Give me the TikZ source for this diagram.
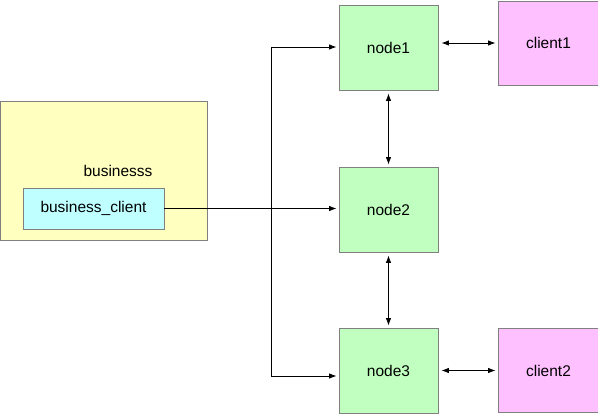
\documentclass[tikz,border=0pt]{standalone}
\usepackage{fontspec}
\setmainfont{Liberation Sans}
\usepackage{xcolor}
\usetikzlibrary{arrows.meta}

\definecolor{bizyellow}{HTML}{FFFFC0}
\definecolor{bizcyan}{HTML}{C0FFFF}
\definecolor{srvgreen}{HTML}{C0FFC0}
\definecolor{clipink}{HTML}{FFC0FF}
\definecolor{boxline}{HTML}{808080}

\begin{document}
\begin{tikzpicture}[
    x=1pt,y=-1pt,
    box/.style={draw=boxline,line width=0.8pt,inner sep=0pt,
                minimum width=99pt,minimum height=85pt},
    server/.style={box,fill=srvgreen},
    client/.style={box,fill=clipink,minimum width=101pt,minimum height=84pt},
    link/.style={line width=0.9pt,-{Latex[length=7.5pt,width=5.5pt]},shorten >=2pt},
    duplex/.style={link,{Latex[length=7.5pt,width=5.5pt]}-{Latex[length=7.5pt,width=5.5pt]},
                   shorten <=3pt},
    every node/.style={font=\fontsize{15.5}{18}\selectfont}
]
    \useasboundingbox (0,0) rectangle (598,414);

    % The business side with its embedded client.
    \node[box,fill=bizyellow,minimum width=207pt,minimum height=139pt]
        (business) at (103.5,170.5) {};
    \node (bizlabel) at (118,171) {businesss};
    \node[box,fill=bizcyan,minimum width=141pt,minimum height=41pt]
        (bizclient) at (93.5,208.5) {business\_client};

    % Three servers in a column, one client beside the top and bottom ones.
    \node[server] (node1) at (388.5,47.5)  {node1};
    \node[server] (node2) at (388.5,209.5) {node2};
    \node[server] (node3) at (388.5,370.5) {node3};
    \node[client] (client1) at (548.5,43)  {client1};
    \node[client] (client2) at (548.5,370.5) {client2};

    % The business client fans out to every server.
    \coordinate (forkTop) at (271,47);
    \coordinate (forkMid) at (271,209);
    \coordinate (forkBot) at (271,376);
    \draw[link] (bizclient) -- (node2.west |- bizclient);
    \draw[line width=0.9pt] (forkTop) -- (forkBot);
    \draw[link] (forkTop) -- (node1.west |- forkTop);
    \draw[link] (forkBot) -- (node3.west |- forkBot);

    % Servers talk to each other and to their clients.
    \draw[duplex] (node1) -- (node2);
    \draw[duplex] (node2) -- (node3);
    \draw[duplex] (node1.east |- client1) -- (client1);
    \draw[duplex] (node3) -- (client2);
\end{tikzpicture}
\end{document}
